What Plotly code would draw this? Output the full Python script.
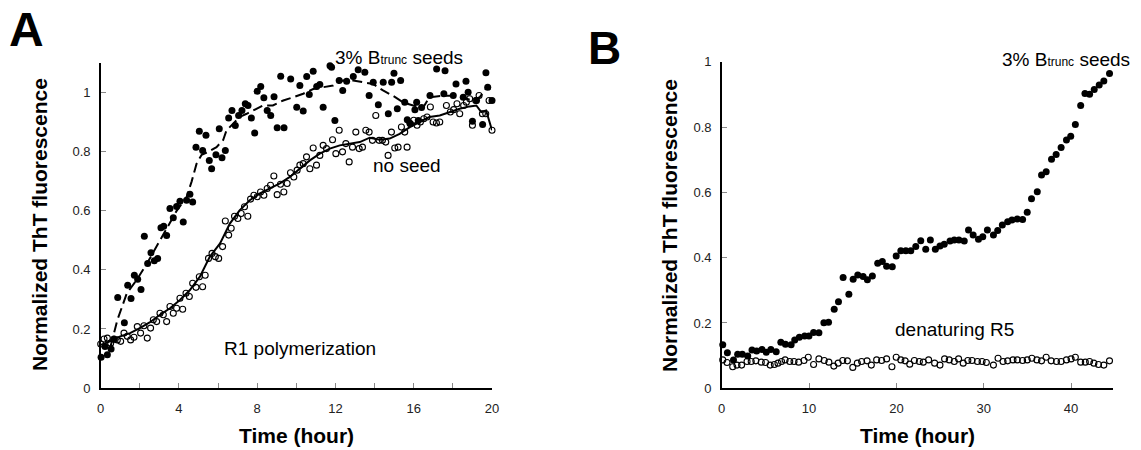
import plotly.graph_objects as go

# ---------------- Panel A data (R1 polymerization) ----------------
a_seed_t = [0.02, 0.22, 0.34, 0.53, 0.68, 0.87, 1.21, 1.38, 1.55, 1.72, 1.89, 2.06, 2.23, 2.40, 2.57, 2.74,
            2.91, 3.08, 3.22, 3.37, 3.54, 3.71, 3.88, 4.05, 4.22, 4.39, 4.56, 4.70, 4.87, 5.04, 5.21, 5.38,
            5.55, 5.67, 5.89, 6.06, 6.20, 6.37, 6.54, 6.71, 6.88, 7.05, 7.22, 7.39, 7.53, 7.70, 7.87, 8.00,
            8.18, 8.34, 8.51, 8.69, 8.86, 9.02, 9.20, 9.37, 9.71, 10.02, 10.18, 10.35, 10.53, 10.66, 10.86,
            11.04, 11.20, 11.37, 11.72, 11.80, 11.97, 12.19, 12.37, 12.57, 12.91, 13.16, 13.50, 13.72, 13.93,
            14.19, 14.44, 14.70, 14.87, 14.99, 15.16, 15.33, 15.54, 15.67, 15.80, 16.06, 16.15, 16.23, 16.40,
            16.83, 17.17, 17.54, 17.60, 18.02, 18.16, 18.53, 18.67, 18.78, 19.00, 19.21, 19.52, 19.69, 19.78,
            20.00]
a_seed_v = [0.104, 0.141, 0.113, 0.132, 0.165, 0.307, 0.221, 0.348, 0.303, 0.382, 0.368, 0.334, 0.514, 0.422,
            0.458, 0.431, 0.439, 0.543, 0.548, 0.517, 0.608, 0.577, 0.615, 0.633, 0.562, 0.636, 0.656, 0.630,
            0.816, 0.870, 0.805, 0.856, 0.771, 0.743, 0.790, 0.878, 0.780, 0.805, 0.915, 0.940, 0.889, 0.923,
            0.940, 0.963, 0.957, 0.915, 0.864, 1.005, 1.021, 0.983, 0.940, 0.923, 0.987, 0.882, 1.056, 0.882,
            1.047, 0.951, 1.025, 0.938, 1.055, 0.994, 1.073, 1.021, 1.028, 0.951, 1.092, 1.087, 0.906, 1.042,
            1.008, 1.039, 1.055, 1.078, 1.070, 0.991, 1.036, 0.960, 1.036, 0.929, 1.036, 1.066, 0.946, 1.042,
            0.968, 0.909, 0.897, 0.943, 0.968, 0.906, 0.950, 0.991, 1.081, 0.997, 1.075, 0.991, 1.030, 0.985,
            1.039, 1.002, 0.904, 0.974, 0.893, 1.068, 1.019, 0.974]

a_none_t = [0.00, 0.17, 0.34, 0.51, 0.68, 0.85, 1.02, 1.19, 1.36, 1.53, 1.70, 1.87, 2.04, 2.21, 2.38, 2.55,
            2.69, 2.86, 3.03, 3.20, 3.37, 3.54, 3.71, 3.88, 4.05, 4.19, 4.36, 4.53, 4.70, 4.87, 5.04, 5.21,
            5.34, 5.51, 5.69, 5.86, 6.03, 6.23, 6.37, 6.54, 6.67, 6.84, 7.01, 7.18, 7.35, 7.52, 7.66, 7.83,
            8.00, 8.17, 8.34, 8.51, 8.68, 8.85, 9.02, 9.19, 9.36, 9.53, 9.70, 9.87, 10.04, 10.18, 10.35, 10.52,
            10.69, 10.86, 11.03, 11.20, 11.37, 11.54, 11.85, 12.02, 12.19, 12.36, 12.53, 12.70, 12.87, 13.04,
            13.21, 13.38, 13.55, 13.72, 13.89, 14.06, 14.23, 14.40, 14.57, 14.69, 14.86, 15.03, 15.20, 15.37,
            15.54, 15.66, 15.83, 16.00, 16.17, 16.34, 16.51, 16.68, 16.85, 16.99, 17.16, 17.33, 17.67, 17.87,
            18.04, 18.21, 18.35, 18.55, 18.69, 18.86, 19.00, 19.17, 19.34, 19.51, 19.68, 19.85, 20.00]
a_none_v = [0.149, 0.166, 0.169, 0.152, 0.166, 0.163, 0.158, 0.186, 0.175, 0.163, 0.172, 0.208, 0.186, 0.211,
            0.169, 0.203, 0.231, 0.225, 0.253, 0.248, 0.225, 0.276, 0.253, 0.270, 0.304, 0.267, 0.321, 0.310,
            0.355, 0.341, 0.377, 0.343, 0.382, 0.439, 0.456, 0.445, 0.439, 0.479, 0.566, 0.518, 0.541, 0.582,
            0.574, 0.591, 0.614, 0.582, 0.640, 0.653, 0.648, 0.664, 0.653, 0.676, 0.687, 0.718, 0.655, 0.690,
            0.664, 0.693, 0.729, 0.715, 0.738, 0.755, 0.760, 0.783, 0.743, 0.813, 0.755, 0.788, 0.822, 0.811,
            0.841, 0.794, 0.873, 0.800, 0.828, 0.766, 0.816, 0.867, 0.811, 0.816, 0.873, 0.867, 0.839, 0.923,
            0.839, 0.839, 0.833, 0.788, 0.867, 0.813, 0.816, 0.884, 0.867, 0.816, 0.895, 0.907, 0.890, 0.901,
            0.912, 0.918, 0.952, 0.901, 0.898, 0.901, 0.957, 0.935, 0.943, 0.963, 0.929, 0.957, 0.968, 0.980,
            0.890, 0.974, 0.991, 0.929, 0.929, 0.974, 0.873]

# smoothed curves
a_seed_fit_t = [0.5, 0.85, 1.33, 1.84, 2.35, 2.86, 3.37, 3.88, 4.39, 4.65, 4.9, 5.16, 5.5, 5.92, 6.26, 6.43,
                6.77, 7.1, 7.46, 7.8, 8.3, 8.8, 9.33, 9.84, 10.35, 10.86, 11.37, 11.88, 12.39, 12.9, 13.41,
                13.92, 14.43, 14.94, 15.45, 15.97, 16.48, 16.8, 17.5, 18.0, 18.5, 19.0, 19.37, 19.8, 19.9]
a_seed_fit_v = [0.14, 0.23, 0.32, 0.366, 0.42, 0.48, 0.535, 0.60, 0.647, 0.70, 0.76, 0.79, 0.80, 0.816, 0.84,
                0.873, 0.895, 0.918, 0.929, 0.94, 0.957, 0.957, 0.974, 0.985, 0.997, 1.013, 1.02, 1.025, 1.042,
                1.042, 1.036, 1.03, 1.008, 0.99, 0.968, 0.957, 0.95, 0.985, 0.99, 0.99, 0.985, 0.974, 0.985,
                1.025, 1.01]
a_none_fit_t = [0.0, 0.48, 1.0, 1.5, 2.0, 2.5, 3.03, 3.54, 4.05, 4.56, 5.07, 5.58, 6.1, 6.6, 7.1, 7.62, 8.14,
                8.65, 9.16, 9.67, 10.18, 10.69, 11.2, 11.71, 12.22, 12.73, 13.24, 13.75, 14.26, 14.77, 15.28,
                15.8, 16.3, 16.8, 17.33, 17.84, 18.35, 18.86, 19.2, 19.45, 19.7, 20.0]
a_none_fit_v = [0.146, 0.158, 0.175, 0.186, 0.203, 0.222, 0.248, 0.27, 0.298, 0.332, 0.377, 0.445, 0.49, 0.557,
                0.602, 0.636, 0.659, 0.676, 0.693, 0.715, 0.743, 0.771, 0.794, 0.811, 0.822, 0.828, 0.833, 0.848,
                0.841, 0.845, 0.861, 0.884, 0.90, 0.918, 0.923, 0.935, 0.946, 0.954, 0.957, 0.935, 0.94, 0.873]

# ---------------- Panel B data (denaturing R5) ----------------
b_seed_t = [0.12, 0.65, 1.35, 1.83, 2.36, 2.98, 3.47, 4.00, 4.61, 5.10, 5.63, 6.24, 6.77, 7.30, 7.95, 8.36,
            8.89, 9.50, 9.99, 10.52, 11.13, 11.70, 12.23, 12.88, 13.37, 13.90, 14.56, 15.05, 15.58, 16.19,
            16.68, 17.25, 17.86, 18.39, 18.88, 19.53, 19.98, 20.51, 21.08, 21.65, 22.22, 22.79, 23.36, 23.89,
            24.46, 24.99, 25.48, 26.14, 26.63, 27.16, 27.77, 28.26, 28.79, 29.40, 29.89, 30.42, 31.11, 31.60,
            32.13, 32.74, 33.23, 33.84, 34.45, 34.98, 35.47, 36.13, 36.62, 37.15, 37.76, 38.29, 38.86, 39.47,
            39.96, 40.49, 41.10, 41.59, 42.12, 42.65, 43.22, 43.75, 44.40]
b_seed_v = [0.133, 0.109, 0.087, 0.104, 0.104, 0.099, 0.117, 0.114, 0.119, 0.110, 0.119, 0.112, 0.141, 0.135,
            0.133, 0.148, 0.156, 0.160, 0.160, 0.171, 0.170, 0.201, 0.202, 0.242, 0.265, 0.339, 0.288, 0.334,
            0.347, 0.342, 0.332, 0.344, 0.383, 0.388, 0.374, 0.372, 0.405, 0.421, 0.421, 0.421, 0.434, 0.452,
            0.426, 0.454, 0.426, 0.436, 0.441, 0.451, 0.454, 0.454, 0.451, 0.485, 0.469, 0.456, 0.464, 0.485,
            0.469, 0.483, 0.500, 0.510, 0.515, 0.518, 0.517, 0.539, 0.580, 0.602, 0.653, 0.663, 0.701, 0.716,
            0.737, 0.760, 0.772, 0.808, 0.866, 0.903, 0.900, 0.915, 0.929, 0.941, 0.964]

b_den_t = [0.12, 0.61, 1.26, 1.75, 2.28, 2.90, 3.38, 3.91, 4.53, 5.02, 5.55, 6.03, 6.44, 6.85, 7.26, 7.79,
           8.28, 8.81, 9.42, 9.91, 10.52, 11.13, 11.74, 12.27, 12.84, 13.33, 13.86, 14.39, 15.01, 15.53,
           16.02, 16.64, 17.13, 17.74, 18.31, 18.88, 19.49, 19.98, 20.51, 21.00, 21.53, 22.06, 22.63, 23.08,
           23.69, 24.38, 24.99, 25.52, 26.05, 26.63, 27.12, 27.65, 28.18, 28.66, 29.28, 29.81, 30.30, 31.11,
           31.64, 32.21, 32.74, 33.35, 33.84, 34.45, 34.98, 35.51, 36.09, 36.62, 37.15, 37.72, 38.33, 38.86,
           39.47, 40.00, 40.49, 41.10, 41.63, 42.12, 42.61, 43.14, 43.75, 44.40]
b_den_v = [0.087, 0.079, 0.066, 0.071, 0.071, 0.082, 0.082, 0.084, 0.080, 0.079, 0.071, 0.073, 0.077, 0.082,
           0.087, 0.082, 0.082, 0.080, 0.085, 0.095, 0.073, 0.090, 0.085, 0.080, 0.068, 0.077, 0.085, 0.084,
           0.064, 0.077, 0.082, 0.084, 0.071, 0.087, 0.085, 0.090, 0.066, 0.095, 0.087, 0.084, 0.074, 0.085,
           0.082, 0.080, 0.087, 0.077, 0.071, 0.090, 0.087, 0.082, 0.090, 0.077, 0.085, 0.085, 0.082, 0.082,
           0.079, 0.071, 0.092, 0.082, 0.084, 0.087, 0.087, 0.085, 0.087, 0.092, 0.087, 0.084, 0.095, 0.084,
           0.082, 0.082, 0.087, 0.090, 0.095, 0.080, 0.080, 0.082, 0.077, 0.073, 0.071, 0.084]

# tick labels
a_xticks = [0, 2, 4, 6, 8, 10, 12, 14, 16, 18, 20]
a_xtext = ["0", "", "4", "", "8", "", "12", "", "16", "", "20"]
a_yticks = [0, 0.2, 0.4, 0.6, 0.8, 1.0]
a_ytext = ["0", "0.2", "0.4", "0.6", "0.8", "1"]
b_xticks = [0, 10, 20, 30, 40]
b_xtext = ["0", "10", "20", "30", "40"]
b_yticks = [0, 0.2, 0.4, 0.6, 0.8, 1.0]
b_ytext = ["0", "0.2", "0.4", "0.6", "0.8", "1"]

W, H = 1141, 450
FONT = "Liberation Sans, Arial, sans-serif"


def px(x):
    return x / W


def py(y):
    return 1 - y / H


fig = go.Figure()

filled = dict(symbol="circle", size=7, color="black", line=dict(width=0))
hollow = dict(symbol="circle-open", size=6, color="black", line=dict(width=1.1))

# Panel A
fig.add_trace(go.Scatter(x=a_none_t, y=a_none_v, mode="markers", marker=hollow,
                         xaxis="x", yaxis="y", cliponaxis=False))
fig.add_trace(go.Scatter(x=a_seed_t, y=a_seed_v, mode="markers", marker=filled,
                         xaxis="x", yaxis="y", cliponaxis=False))
fig.add_trace(go.Scatter(x=a_none_fit_t, y=a_none_fit_v, mode="lines",
                         line=dict(color="black", width=2), xaxis="x", yaxis="y"))
fig.add_trace(go.Scatter(x=a_seed_fit_t, y=a_seed_fit_v, mode="lines",
                         line=dict(color="black", width=2, dash="10px,5px"), xaxis="x", yaxis="y"))
# Panel B
fig.add_trace(go.Scatter(x=b_den_t, y=b_den_v, mode="markers", marker=hollow,
                         xaxis="x2", yaxis="y2", cliponaxis=False))
fig.add_trace(go.Scatter(x=b_seed_t, y=b_seed_v, mode="markers", marker=filled,
                         xaxis="x2", yaxis="y2", cliponaxis=False))

axis_common = dict(showline=True, linecolor="black", linewidth=1.5, showgrid=False, zeroline=False,
                   ticks="inside", ticklen=5, tickwidth=1, tickcolor="#888888",
                   tickfont=dict(family=FONT, size=13, color="#222222"), fixedrange=True)

fig.update_layout(
    width=W, height=H, margin=dict(l=0, r=0, t=0, b=0, autoexpand=False),
    paper_bgcolor="white", plot_bgcolor="white", showlegend=False, hovermode=False,
    xaxis=dict(domain=[px(100.7), px(492)], range=[0, 20], tickmode="array",
               tickvals=a_xticks, ticktext=a_xtext, anchor="y", ticklabelstandoff=8, **axis_common),
    yaxis=dict(domain=[py(388), py(63.3)], range=[0, 1.1], tickmode="array",
               tickvals=a_yticks, ticktext=a_ytext, anchor="x", ticklabelstandoff=6, **axis_common),
    xaxis2=dict(domain=[px(721.7), px(1113)], range=[0, 44.8], tickmode="array",
                tickvals=b_xticks, ticktext=b_xtext, anchor="y2", ticklabelstandoff=8, **axis_common),
    yaxis2=dict(domain=[py(388.3), py(61.7)], range=[0, 1.0], tickmode="array",
                tickvals=b_yticks, ticktext=b_ytext, anchor="x2", ticklabelstandoff=6, **axis_common),
)

sub = "<span style='font-size:12px'>trunc</span>"


def note(x, y, text, size=19, bold=False, angle=0):
    t = f"<b>{text}</b>" if bold else text
    fig.add_annotation(x=px(x), y=py(y), xref="paper", yref="paper", text=t, showarrow=False,
                       xanchor="center", yanchor="middle", textangle=angle,
                       font=dict(family=FONT, size=size, color="black"))


note(26.5, 30, "A", size=48, bold=True)
note(604, 48.5, "B", size=46, bold=True)
note(399, 58, f"3% B{sub} seeds")
note(407, 166, "no seed")
note(300, 348, "R1 polymerization")
note(1066, 59, f"3% B{sub} seeds")
note(954, 329, "denaturing R5")
note(297, 435, "Time (hour)", size=21, bold=True)
note(917, 435, "Time (hour)", size=21, bold=True)
note(39, 225, "Normalized ThT fluorescence", size=21, bold=True, angle=-90)
note(669, 226, "Normalized ThT fluorescence", size=21, bold=True, angle=-90)

fig.write_html("out.html", config={"displayModeBar": False, "staticPlot": True},
               post_script="document.body.style.margin='0px';")
